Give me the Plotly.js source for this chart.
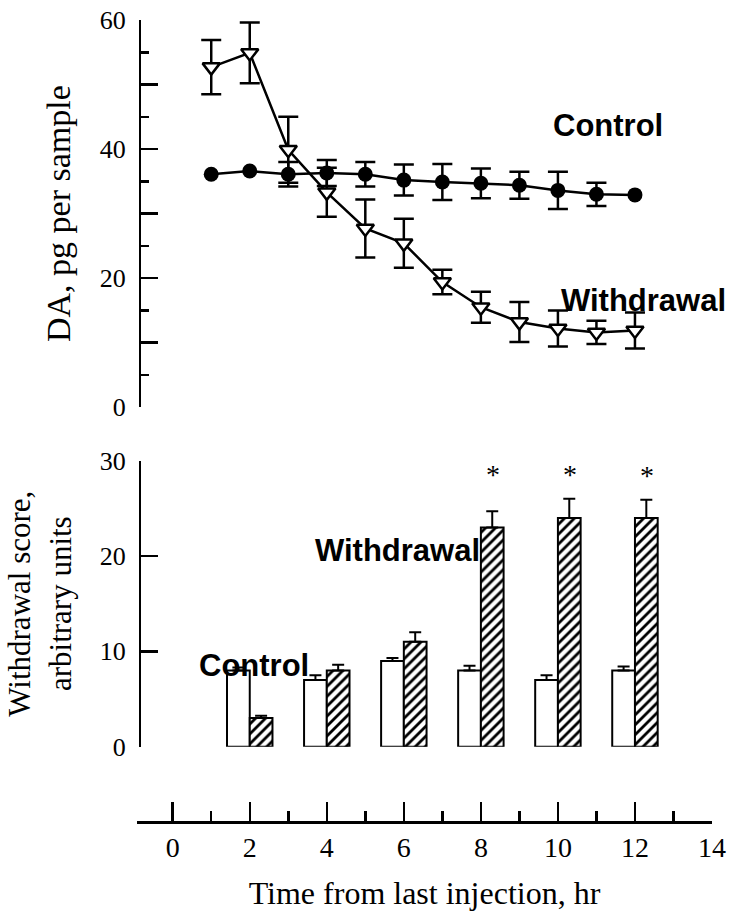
<!DOCTYPE html>
<html><head><meta charset="utf-8">
<script src="https://cdn.plot.ly/plotly-3.0.1.min.js"></script>
<style>html,body{margin:0;padding:0;background:#fff}#chart{width:731px;height:914px}</style>
</head><body><div id="chart"></div>
<script>
// ---- data ----
const hours = [1,2,3,4,5,6,7,8,9,10,11,12];
const daControl = [36.1,36.6,36.1,36.3,36.1,35.2,34.9,34.7,34.4,33.6,33.0,32.9];
const daControlErr = [null,null,1.9,2.0,1.9,2.4,2.8,2.3,2.1,2.9,1.8,null];
const daWithdrawal = [52.7,54.9,39.9,33.3,27.7,25.4,19.4,15.5,13.2,12.2,11.6,11.9];
const daWithdrawalErr = [4.2,4.7,5.1,3.8,4.5,3.8,1.9,2.4,3.1,2.8,1.8,2.8];

const scoreHours = [2,4,6,8,10,12];
const scoreControl = [8,7,9,8,7,8];
const scoreControlErr = [0.3,0.5,0.3,0.5,0.5,0.4];
const scoreWithdrawal = [3,8,11,23,24,24];
const scoreWithdrawalErr = [0.25,0.6,1.0,1.7,2.0,1.9];

const sigHours = [8,10,12];
const sigLevel = [28.6,28.6,28.4];
const sigMark = '*';

const daTicks = [0,10,20,30,40,50,60];
const daTickText = ['0','','20','','40','','60'];
const scoreTicks = [0,10,20,30];
const scoreTickText = ['0','10','20','30'];

const groupNames = ['Control','Withdrawal'];
const xTitle = 'Time from last injection, hr';
const daTitle = 'DA, pg per sample';
const scoreTitle = 'Withdrawal score,<br>arbitrary units';

// ---- styling ----
const SERIF = 'Liberation Serif, Times New Roman, serif';
const SANS = 'Liberation Sans, Arial, sans-serif';
const toErr = a => a.map(v => v === null ? NaN : v);
const zeros = n => new Array(n).fill(0);
const BARGAP = 0.41;

const traces = [
  {
    type:'scatter', mode:'lines+markers', name:groupNames[0],
    x:hours, y:daControl, xaxis:'x', yaxis:'y2',
    line:{color:'black', width:2.5},
    marker:{symbol:'circle', size:15, color:'black'},
    error_y:{type:'data', array:toErr(daControlErr), visible:true, color:'black', thickness:2.5, width:10}
  },
  {
    type:'scatter', mode:'lines+markers', name:groupNames[1],
    x:hours, y:daWithdrawal, xaxis:'x', yaxis:'y2',
    line:{color:'black', width:2.5},
    marker:{symbol:'triangle-down', size:15, color:'white', line:{color:'black', width:2.5}},
    error_y:{type:'data', array:toErr(daWithdrawalErr), visible:true, color:'black', thickness:2.5, width:10}
  },
  {
    type:'bar', name:groupNames[0], x:scoreHours, y:scoreControl, xaxis:'x', yaxis:'y',
    marker:{color:'white', line:{color:'black', width:2}},
    error_y:{type:'data', symmetric:false, array:scoreControlErr, arrayminus:zeros(scoreControlErr.length), color:'black', thickness:2, width:6}
  },
  {
    type:'bar', name:groupNames[1], x:scoreHours, y:scoreWithdrawal, xaxis:'x', yaxis:'y',
    marker:{color:'white', line:{color:'black', width:2},
      pattern:{shape:'/', fgcolor:'black', bgcolor:'white', size:7, solidity:0.4}},
    error_y:{type:'data', symmetric:false, array:scoreWithdrawalErr, arrayminus:zeros(scoreWithdrawalErr.length), color:'black', thickness:2, width:6}
  }
];

const annotations = [
  {xref:'x', yref:'y2', x:11.31, y:43.7, text:groupNames[0]},
  {xref:'x', yref:'y2', x:12.23, y:16.5, text:groupNames[1]},
  {xref:'x', yref:'y', x:5.84, y:20.6, text:groupNames[1]},
  {xref:'x', yref:'y', x:2.11, y:8.47, text:groupNames[0]}
].map(a => Object.assign(a, {showarrow:false, xanchor:'center', yanchor:'middle',
  font:{family:SANS, size:31, color:'black', weight:'bold'}}));

sigHours.forEach((h, i) => {
  annotations.push({xref:'x', yref:'y', x:h, y:sigLevel[i], text:sigMark, showarrow:false,
    xshift:12, xanchor:'center', yanchor:'middle', font:{family:SERIF, size:28, color:'black'}});
});

const axisCommon = {
  showline:true, linecolor:'black', linewidth:2.5, showgrid:false, zeroline:false,
  ticks:'inside', tickcolor:'black', tickwidth:2.5, anchor:'free'
};

const layout = {
  width:731, height:914,
  margin:{l:137, r:19, t:20, b:92, pad:0},
  paper_bgcolor:'white', plot_bgcolor:'rgba(0,0,0,0)',
  showlegend:false,
  font:{family:SERIF, color:'black'},
  barmode:'group', bargap:BARGAP, bargroupgap:0,
  xaxis:Object.assign({}, axisCommon, {
    range:[-0.927, 14], position:0,
    tickmode:'linear', tick0:0, dtick:2, ticklen:19,
    minor:{tickmode:'linear', tick0:0, dtick:1, ticks:'inside', ticklen:10, tickwidth:2.5, tickcolor:'black'},
    tickfont:{family:SERIF, size:28}, ticklabelstandoff:0,
    title:{text:xTitle, font:{family:SERIF, size:32}, standoff:19}
  }),
  yaxis2:Object.assign({}, axisCommon, {
    domain:[0.5171, 1], range:[0, 60], position:0.0052,
    tickmode:'array', tickvals:daTicks, ticktext:daTickText, ticklen:17,
    minor:{tickmode:'linear', tick0:0, dtick:5, ticks:'inside', ticklen:8, tickwidth:2.5, tickcolor:'black'},
    tickfont:{family:SERIF, size:26}, ticklabelstandoff:8,
    title:{text:daTitle, font:{family:SERIF, size:34}, standoff:18}
  }),
  yaxis:Object.assign({}, axisCommon, {
    domain:[0.0939, 0.4505], range:[0, 30], position:0.0052,
    tickmode:'array', tickvals:scoreTicks, ticktext:scoreTickText, ticklen:17,
    tickfont:{family:SERIF, size:26}, ticklabelstandoff:8,
    title:{text:scoreTitle, font:{family:SERIF, size:31}, standoff:18}
  }),
  annotations:annotations
};

Plotly.newPlot('chart', traces, layout, {displayModeBar:false, staticPlot:true});
</script>
</body></html>
